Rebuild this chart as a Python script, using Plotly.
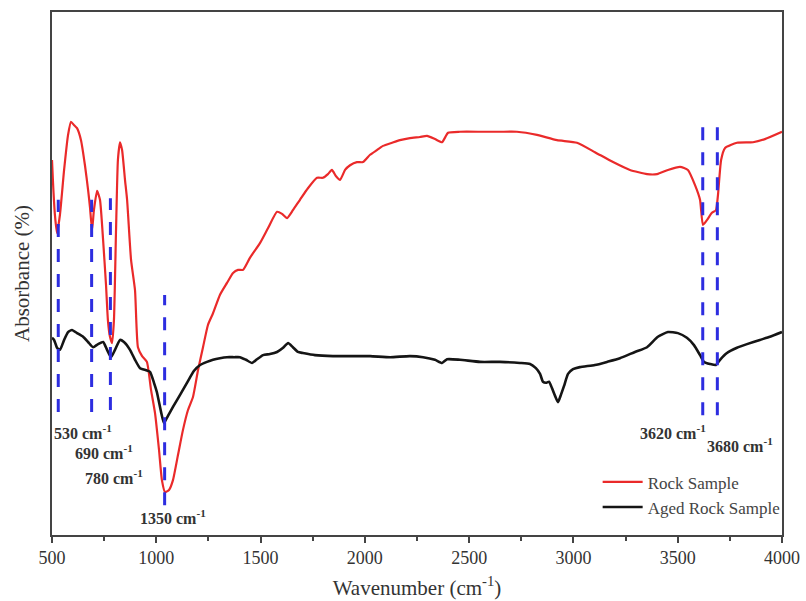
import plotly.graph_objects as go

# FTIR spectra (wavenumber in cm^-1, absorbance in arbitrary units)
rock_wn = [500, 505, 514, 524, 538, 558, 577, 591, 605, 620, 639, 658, 673, 682, 692, 701,
           716, 730, 745, 759, 768, 778, 788, 797, 807, 816, 826, 836, 850, 860, 879, 898,
           912, 932, 955, 975, 994, 1013, 1027, 1042, 1061, 1080, 1104, 1128, 1152, 1176,
           1200, 1224, 1248, 1272, 1305, 1339, 1368, 1392, 1416, 1449, 1497, 1536, 1579,
           1603, 1627, 1655, 1689, 1727, 1771, 1799, 1823, 1842, 1862, 1881, 1905, 1929,
           1962, 1991, 2025, 2058, 2087, 2130, 2168, 2216, 2264, 2298, 2336, 2370, 2399,
           2456, 2566, 2648, 2729, 2825, 2921, 3017, 3103, 3190, 3271, 3353, 3401, 3453,
           3511, 3549, 3583, 3607, 3621, 3640, 3664, 3683, 3693, 3708, 3727, 3784, 3861,
           3918, 4000]
rock_abs = [0.717, 0.673, 0.612, 0.577, 0.612, 0.698, 0.765, 0.790, 0.784, 0.778, 0.755,
            0.707, 0.660, 0.627, 0.583, 0.621, 0.658, 0.641, 0.564, 0.478, 0.411, 0.379,
            0.367, 0.411, 0.583, 0.717, 0.751, 0.736, 0.679, 0.641, 0.526, 0.468, 0.359,
            0.342, 0.331, 0.277, 0.233, 0.163, 0.105, 0.082, 0.086, 0.105, 0.153, 0.201,
            0.239, 0.264, 0.315, 0.359, 0.402, 0.424, 0.459, 0.482, 0.501, 0.507, 0.507,
            0.530, 0.558, 0.587, 0.618, 0.614, 0.606, 0.621, 0.641, 0.663, 0.683, 0.683,
            0.690, 0.698, 0.686, 0.679, 0.698, 0.707, 0.713, 0.713, 0.727, 0.736, 0.744,
            0.750, 0.755, 0.759, 0.761, 0.763, 0.757, 0.751, 0.769, 0.771, 0.771, 0.771,
            0.771, 0.765, 0.755, 0.750, 0.732, 0.713, 0.698, 0.690, 0.690, 0.698, 0.704,
            0.698, 0.669, 0.641, 0.593, 0.602, 0.616, 0.621, 0.650, 0.717, 0.740, 0.750,
            0.751, 0.757, 0.771]

aged_wn = [500, 510, 524, 538, 558, 577, 596, 620, 649, 673, 697, 721, 745, 764, 783, 802,
           826, 845, 874, 898, 922, 951, 970, 989, 1003, 1023, 1037, 1056, 1080, 1114, 1147,
           1181, 1210, 1243, 1272, 1305, 1339, 1373, 1401, 1430, 1459, 1483, 1512, 1545,
           1579, 1608, 1632, 1655, 1679, 1703, 1761, 1847, 1929, 2025, 2121, 2216, 2279,
           2336, 2370, 2394, 2456, 2552, 2648, 2744, 2792, 2820, 2840, 2854, 2868, 2883,
           2897, 2912, 2926, 2940, 2955, 2974, 2998, 3031, 3103, 3161, 3223, 3295, 3353,
           3405, 3453, 3501, 3544, 3578, 3607, 3626, 3655, 3683, 3703, 3736, 3784, 3832,
           3894, 3942, 4000]
aged_abs = [0.377, 0.373, 0.358, 0.354, 0.373, 0.388, 0.392, 0.386, 0.379, 0.369, 0.359,
            0.365, 0.369, 0.354, 0.340, 0.354, 0.373, 0.369, 0.354, 0.335, 0.319, 0.315,
            0.312, 0.291, 0.273, 0.235, 0.214, 0.228, 0.245, 0.268, 0.291, 0.314, 0.325,
            0.331, 0.335, 0.338, 0.340, 0.340, 0.340, 0.335, 0.329, 0.336, 0.344, 0.346,
            0.350, 0.358, 0.367, 0.359, 0.350, 0.348, 0.344, 0.342, 0.342, 0.342, 0.340,
            0.342, 0.340, 0.335, 0.329, 0.336, 0.335, 0.331, 0.331, 0.329, 0.327, 0.319,
            0.308, 0.293, 0.291, 0.293, 0.281, 0.266, 0.254, 0.268, 0.285, 0.308, 0.317,
            0.321, 0.325, 0.331, 0.338, 0.350, 0.359, 0.379, 0.388, 0.386, 0.377, 0.363,
            0.344, 0.331, 0.327, 0.325, 0.335, 0.348, 0.358, 0.365, 0.373, 0.379, 0.388]

# Marked bands: marker position, vertical extent, and the label text
band_pos = [530, 690, 780, 1040, 3620, 3690]
band_low = [0.235, 0.235, 0.239, 0.057, 0.229, 0.229]
band_high = [0.641, 0.641, 0.644, 0.459, 0.784, 0.784]
band_text = ["530", "690", "780", "1350", "3620", "3680"]
label_x = [500, 601, 649, 912, 3310, 3631]
label_y = [0.197, 0.159, 0.111, 0.034, 0.197, 0.172]

SERIF = "Liberation Serif, Times New Roman, serif"

fig = go.Figure()
fig.add_trace(go.Scatter(x=rock_wn, y=rock_abs, mode="lines", name="Rock Sample",
                         line=dict(color="#ea2a2a", width=2.2, shape="spline", smoothing=0.5)))
fig.add_trace(go.Scatter(x=aged_wn, y=aged_abs, mode="lines", name="Aged Rock Sample",
                         line=dict(color="#151515", width=2.6, shape="spline", smoothing=0.5)))

for xp, lo, hi in zip(band_pos, band_low, band_high):
    fig.add_shape(type="line", x0=xp, x1=xp, y0=lo, y1=hi, xref="x", yref="y",
                  line=dict(color="#2d2de0", width=3, dash="13px,12px"))

for t, xl, yl in zip(band_text, label_x, label_y):
    fig.add_annotation(x=xl, y=yl, xref="x", yref="y", xanchor="left", yanchor="middle",
                       text=f"<b>{t} cm<sup>-1</sup></b>", showarrow=False,
                       font=dict(family=SERIF, size=16, color="#333333"))

fig.update_layout(
    width=806, height=601,
    margin=dict(l=52, r=24, t=12, b=66),
    paper_bgcolor="white", plot_bgcolor="white",
    font=dict(family=SERIF, color="#333333"),
    showlegend=True,
    legend=dict(x=1.005, xanchor="right", y=0.135, yanchor="top",
                bgcolor="rgba(0,0,0,0)", font=dict(family=SERIF, size=17, color="#444444"),
                itemwidth=40, tracegroupgap=0),
)
fig.update_xaxes(range=[500, 4000], tickvals=[500, 1000, 1500, 2000, 2500, 3000, 3500, 4000],
                 ticks="outside", ticklen=6, tickwidth=1.5, tickcolor="#444444",
                 minor=dict(dtick=250, tick0=500, ticks="outside", ticklen=4,
                            tickwidth=1.5, tickcolor="#444444"),
                 showline=True, linecolor="#444444", linewidth=1.5, mirror=True,
                 showgrid=False, zeroline=False, automargin=False,
                 tickfont=dict(family=SERIF, size=18, color="#333333"),
                 title=dict(text="Wavenumber (cm<sup>-1</sup>)", standoff=13,
                            font=dict(family=SERIF, size=21, color="#333333")))
fig.update_yaxes(range=[0, 1], showticklabels=False, ticks="",
                 showline=True, linecolor="#444444", linewidth=1.5, mirror=True,
                 showgrid=False, zeroline=False, automargin=False,
                 title=dict(text="Absorbance (%)", standoff=15,
                            font=dict(family=SERIF, size=21, color="#333333")))

fig.write_html("out.html")
